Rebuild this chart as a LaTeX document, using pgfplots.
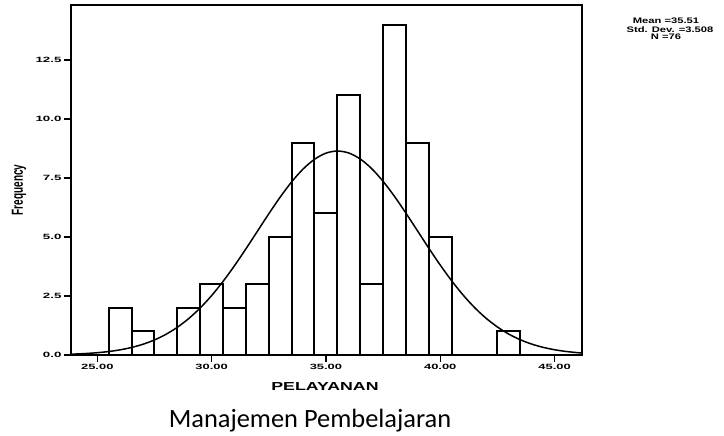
\documentclass[border=0pt]{standalone}
\usepackage{fontspec}
\setmainfont{Liberation Sans}
\newfontfamily\calibri{Carlito}
\usepackage{graphicx}
\usepackage{pgfplots}
\pgfplotsset{compat=1.18}
\begin{document}
\begin{tikzpicture}[x=1pt,y=1pt]
\useasboundingbox (0,0) rectangle (724,436);
\begin{axis}[
  at={(71pt,81pt)}, anchor=south west,
  scale only axis, width=511pt, height=350pt,
  xmin=23.85, xmax=46.2, ymin=0, ymax=14.83,
  axis line style={line width=1.8pt},
  xtick={25,30,35,40,45},
  ytick={0,2.5,5,7.5,10,12.5},
  tick align=outside, tick pos=left,
  major tick length=7pt,
  tick style={line width=1.4pt, black},
  xticklabel style={font=\bfseries\fontsize{7.6}{8}\selectfont, yshift=1pt},
  yticklabel style={font=\bfseries\fontsize{7.6}{8}\selectfont, xshift=1pt},
  xticklabel={\scalebox{1.7}[1]{\pgfmathprintnumber[fixed,fixed zerofill,precision=2,assume math mode=true]{\tick}}},
  yticklabel={\scalebox{1.75}[1]{\pgfmathprintnumber[fixed,fixed zerofill,precision=1,assume math mode=true]{\tick}}},
  clip=true,
]
\addplot[ybar interval, fill=white, draw=black, line width=2pt] coordinates {
(25.5,2) (26.5,1) (27.5,0) (28.5,2) (29.5,3) (30.5,2) (31.5,3) (32.5,5)
(33.5,9) (34.5,6) (35.5,11) (36.5,3) (37.5,14) (38.5,9) (39.5,5)
(40.5,0) (41.5,0) (42.5,1) (43.5,1)};
\addplot[black, line width=1.5pt, smooth, mark=none] coordinates {
(23.85,0.035) (24,0.0397) (24.5,0.0627) (25,0.0971) (25.5,0.1474) (26,0.2191)
(26.5,0.3195) (27,0.4561) (27.5,0.6375) (28,0.8738) (28.5,1.1737) (29,1.5445)
(29.5,1.9922) (30,2.5168) (30.5,3.1175) (31,3.782) (31.5,4.497) (32,5.239)
(32.5,5.981) (33,6.691) (33.5,7.335) (34,7.878) (34.5,8.292) (35,8.552)
(35.5,8.643) (36,8.559) (36.5,8.306) (37,7.898) (37.5,7.358) (38,6.718)
(38.5,6.010) (39,5.269) (39.5,4.526) (40,3.810) (40.5,3.143) (41,2.540)
(41.5,2.012) (42,1.561) (42.5,1.187) (43,0.8845) (43.5,0.646) (44,0.462)
(44.5,0.324) (45,0.2226) (45.5,0.1499) (46,0.0988) (46.2,0.085)};
\end{axis}
\node[font=\bfseries\fontsize{10}{12}\selectfont, rotate=90] at (19,246) {\scalebox{1}[1.6]{Frequency}};
\node[font=\bfseries\fontsize{11.6}{13}\selectfont] at (325,49) {\scalebox{1.53}[1]{PELAYANAN}};
\node[font=\bfseries\fontsize{8}{9}\selectfont] at (666,415) {\scalebox{1.4}[1]{Mean =35.51}};
\node[font=\bfseries\fontsize{8}{9}\selectfont] at (670,406.5) {\scalebox{1.4}[1]{Std. Dev. =3.508}};
\node[font=\bfseries\fontsize{8}{9}\selectfont] at (666,399) {\scalebox{1.4}[1]{N =76}};
\node[font=\calibri\fontsize{26.4}{28}\selectfont, anchor=base] at (310,8) {Manajemen Pembelajaran};
\end{tikzpicture}
\end{document}
